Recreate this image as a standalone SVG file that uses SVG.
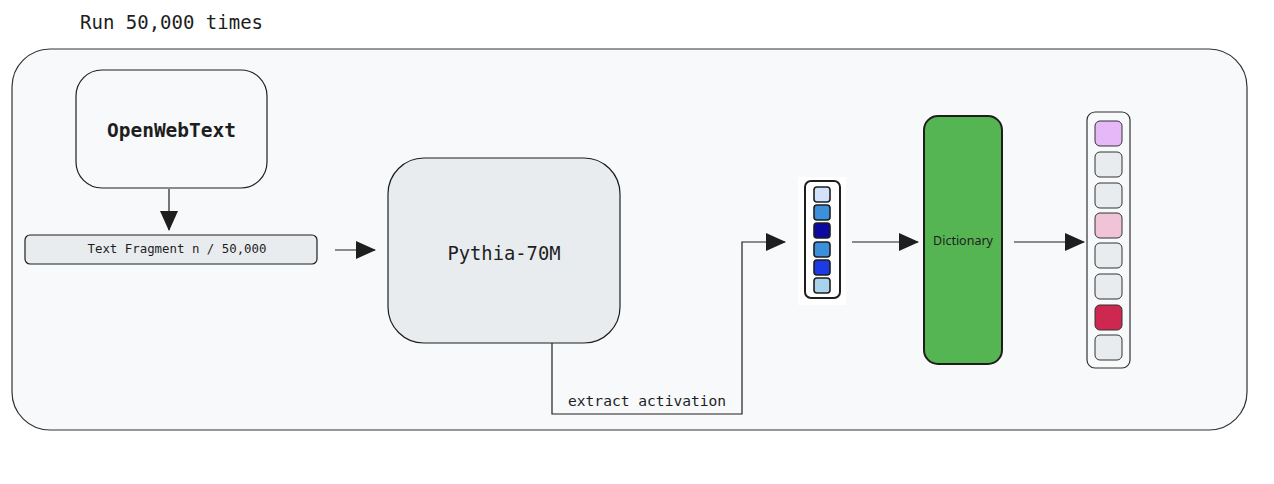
<svg xmlns="http://www.w3.org/2000/svg" width="1274" height="484" viewBox="0 0 1274 484">
<defs>
<marker id="ah" markerWidth="20" markerHeight="18" refX="19" refY="9" orient="auto" markerUnits="userSpaceOnUse">
<path d="M0,0 L20,9 L0,18 Z" fill="#1e1e1e"/>
</marker>
<style>
.mono{font-family:"DejaVu Sans Mono","Liberation Mono",monospace;fill:#1e1e1e}
.conn{fill:none;stroke:#1e1e1e;stroke-width:1.2}
.cell{stroke:#1e1e1e;stroke-width:1.6}
.ocell{stroke:#333;stroke-width:1}
</style>
</defs>
<rect width="1274" height="484" fill="#ffffff"/>
<g id="container">
<rect x="12" y="49" width="1235" height="381" rx="38" fill="#f8f9fa" stroke="#333" stroke-width="1.2"/>
<text class="mono" x="80" y="29" font-size="19">Run 50,000 times</text>
</g>
<g id="openwebtext">
<rect x="76" y="70" width="191" height="118" rx="26" fill="#f8f9fa" stroke="#1e1e1e" stroke-width="1.2"/>
<text class="mono" x="171.5" y="131" font-size="19.5" font-weight="bold" text-anchor="middle" dominant-baseline="middle">OpenWebText</text>
</g>
<g id="fragment">
<rect x="25" y="235" width="292" height="29" rx="5" fill="#e9ecef" stroke="#1e1e1e" stroke-width="1.2"/>
<text class="mono" x="177" y="249.5" font-size="12.4" text-anchor="middle" dominant-baseline="middle">Text Fragment n / 50,000</text>
</g>
<g id="pythia">
<rect x="388" y="158" width="232" height="185" rx="36" fill="#e9ecef" stroke="#1e1e1e" stroke-width="1.2"/>
<text class="mono" x="504" y="254" font-size="18.8" text-anchor="middle" dominant-baseline="middle">Pythia-70M</text>
</g>
<g id="activation">
<rect x="798" y="177" width="48" height="128" fill="#ffffff"/>
<rect x="805" y="181" width="35" height="117" rx="6" fill="#ffffff" stroke="#1e1e1e" stroke-width="2"/>
<rect class="cell" x="814" y="187" width="16" height="15" rx="3" fill="#d3e2fb"/>
<rect class="cell" x="814" y="205" width="16" height="15" rx="3" fill="#3c8fdb"/>
<rect class="cell" x="814" y="223" width="16" height="15" rx="3" fill="#0a0aa0"/>
<rect class="cell" x="814" y="242" width="16" height="15" rx="3" fill="#3c8fdb"/>
<rect class="cell" x="814" y="260" width="16" height="15" rx="3" fill="#1b3be6"/>
<rect class="cell" x="814" y="278" width="16" height="15" rx="3" fill="#a9d3ec"/>
</g>
<g id="dictionary">
<rect x="924" y="116" width="78" height="248" rx="14" fill="#56b553" stroke="#1e1e1e" stroke-width="2"/>
<text x="963" y="242" font-family="'Noto Sans','Liberation Sans',sans-serif" font-size="12.5" fill="#1e1e1e" text-anchor="middle" dominant-baseline="middle">Dictionary</text>
</g>
<g id="features">
<rect x="1087" y="112" width="43" height="256" rx="8" fill="#f8f9fa" stroke="#333" stroke-width="1.2"/>
<rect class="ocell" x="1095" y="121" width="27" height="25" rx="5" fill="#e6b8f7"/>
<rect class="ocell" x="1095" y="152" width="27" height="25" rx="5" fill="#e9ecef"/>
<rect class="ocell" x="1095" y="183" width="27" height="25" rx="5" fill="#e9ecef"/>
<rect class="ocell" x="1095" y="213" width="27" height="25" rx="5" fill="#f0c3d7"/>
<rect class="ocell" x="1095" y="243" width="27" height="25" rx="5" fill="#e9ecef"/>
<rect class="ocell" x="1095" y="274" width="27" height="25" rx="5" fill="#e9ecef"/>
<rect class="ocell" x="1095" y="305" width="27" height="25" rx="5" fill="#cf2850"/>
<rect class="ocell" x="1095" y="335" width="27" height="25" rx="5" fill="#e9ecef"/>
</g>
<g id="connectors">
<path class="conn" d="M169,189 L169,230" marker-end="url(#ah)"/>
<path class="conn" d="M335,250 L375,250" marker-end="url(#ah)"/>
<path class="conn" d="M552,343 L552,414 L742,414 L742,242 L785,242" marker-end="url(#ah)"/>
<text class="mono" x="568" y="406" font-size="14.6">extract activation</text>
<path class="conn" d="M852,242 L918,242" marker-end="url(#ah)"/>
<path class="conn" d="M1014,242 L1084,242" marker-end="url(#ah)"/>
</g>
</svg>
